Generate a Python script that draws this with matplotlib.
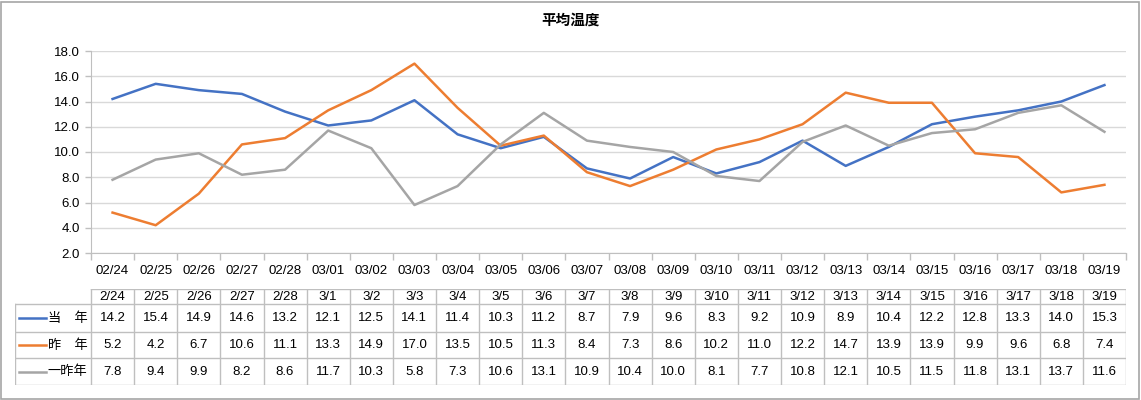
import numpy as np
import matplotlib.pyplot as plt
from matplotlib.patches import Rectangle

plt.rcParams['font.family'] = ['Liberation Sans', 'Noto Sans CJK JP']

axis_labels = ['02/24', '02/25', '02/26', '02/27', '02/28', '03/01', '03/02', '03/03', '03/04', '03/05', '03/06', '03/07',
               '03/08', '03/09', '03/10', '03/11', '03/12', '03/13', '03/14', '03/15', '03/16', '03/17', '03/18', '03/19']
table_labels = ['2/24', '2/25', '2/26', '2/27', '2/28', '3/1', '3/2', '3/3', '3/4', '3/5', '3/6', '3/7',
                '3/8', '3/9', '3/10', '3/11', '3/12', '3/13', '3/14', '3/15', '3/16', '3/17', '3/18', '3/19']
this_year = [14.2, 15.4, 14.9, 14.6, 13.2, 12.1, 12.5, 14.1, 11.4, 10.3, 11.2, 8.7,
             7.9, 9.6, 8.3, 9.2, 10.9, 8.9, 10.4, 12.2, 12.8, 13.3, 14.0, 15.3]
last_year = [5.2, 4.2, 6.7, 10.6, 11.1, 13.3, 14.9, 17.0, 13.5, 10.5, 11.3, 8.4,
             7.3, 8.6, 10.2, 11.0, 12.2, 14.7, 13.9, 13.9, 9.9, 9.6, 6.8, 7.4]
two_years = [7.8, 9.4, 9.9, 8.2, 8.6, 11.7, 10.3, 5.8, 7.3, 10.6, 13.1, 10.9,
             10.4, 10.0, 8.1, 7.7, 10.8, 12.1, 10.5, 11.5, 11.8, 13.1, 13.7, 11.6]
series_names = ['当　年', '昨　年', '一昨年']
colors = ['#4472C4', '#ED7D31', '#A5A5A5']

W, H = 1141, 400
fig = plt.figure(figsize=(W / 100, H / 100), dpi=100)
fig.patches.append(Rectangle((1 / W, 1 / H), (W - 3) / W, (H - 3) / H, transform=fig.transFigure,
                             fill=False, edgecolor='#A6A6A6', linewidth=1.2))

# plot area in pixels
L, R, T, B = 91, 1126, 51, 253
ax = fig.add_axes([L / W, 1 - B / H, (R - L) / W, (B - T) / H])
n = len(axis_labels)
x = np.arange(n)
all_series = [this_year, last_year, two_years]
for vals, c in zip(all_series, colors):
    ax.plot(x, vals, color=c, linewidth=1.8, solid_joinstyle='round')

ax.set_xlim(-0.5, n - 0.5)
ax.set_ylim(2, 18)
ax.set_yticks(np.arange(2, 18.1, 2))
ax.set_yticklabels(['%.1f' % v for v in np.arange(2, 18.1, 2)], fontsize=9.5)
ax.yaxis.grid(True, color='#D9D9D9', linewidth=1)
ax.set_axisbelow(True)
ax.set_xticks(x)
ax.set_xticklabels(axis_labels, fontsize=9.5)
ax.tick_params(axis='x', length=0, pad=9)
ax.set_xticks(np.arange(-0.5, n, 1), minor=True)
ax.tick_params(axis='x', which='minor', length=5, color='#BFBFBF', width=1)
ax.tick_params(axis='y', length=4, color='#BFBFBF', width=1, pad=4)
for s in ['top', 'right']:
    ax.spines[s].set_visible(False)
ax.spines['left'].set_color('#BFBFBF')
ax.spines['bottom'].set_color('#BFBFBF')

fig.text(0.5, 1 - 20 / H, '平均温度', ha='center', va='center', fontsize=10.5, fontweight='bold',
         family=['Noto Sans CJK JP'])

# data table
colw = (R - L) / n
TL = 15
left_x = -0.5 - (L - TL) / colw
rows = [289, 304, 332, 358, 385]
tax = fig.add_axes([TL / W, 1 - rows[-1] / H, (R - TL) / W, (rows[-1] - rows[0]) / H])
tax.set_xlim(left_x, n - 0.5)
tax.set_ylim(rows[-1], rows[0])
tax.axis('off')
lc = '#BFBFBF'
# horizontal lines
tax.plot([-0.5, n - 0.5], [rows[0], rows[0]], color=lc, lw=1)
for r in rows[1:]:
    tax.plot([left_x, n - 0.5], [r, r], color=lc, lw=1)
# vertical lines
tax.plot([left_x, left_x], [rows[1], rows[-1]], color=lc, lw=1)
for k in range(n + 1):
    tax.plot([k - 0.5, k - 0.5], [rows[0], rows[-1]], color=lc, lw=1)
for i, lab in enumerate(table_labels):
    tax.text(i, (rows[0] + rows[1]) / 2, lab, ha='center', va='center', fontsize=9.5)
for j, (vals, name, c) in enumerate(zip(all_series, series_names, colors)):
    yc = (rows[j + 1] + rows[j + 2]) / 2
    tax.plot([left_x + 0.1, left_x + 0.72], [yc, yc], color=c, lw=1.8)
    tax.text(-0.58, yc, name, ha='right', va='center', fontsize=9.5, family=['Noto Sans CJK JP'])
    for i, v in enumerate(vals):
        tax.text(i, yc, '%.1f' % v, ha='center', va='center', fontsize=9.5)

fig.savefig('out.png', dpi=100)
